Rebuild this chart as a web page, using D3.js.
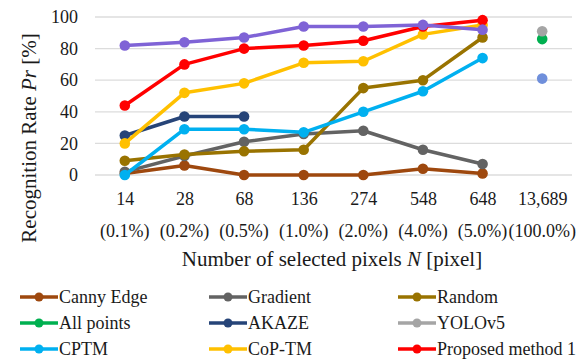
<!DOCTYPE html>
<html>
<head>
<meta charset="utf-8">
<script src="https://cdn.jsdelivr.net/npm/d3@7/dist/d3.min.js"></script>
<style>
  html, body { margin: 0; padding: 0; background: #fff; }
  svg { display: block; }
</style>
</head>
<body>
<svg id="chart" width="582" height="363"></svg>
<script>
// Selected-pixel counts and their share of all pixels
const categories = ["14", "28", "68", "136", "274", "548", "648", "13,689"];
const percents = ["(0.1%)", "(0.2%)", "(0.5%)", "(1.0%)", "(2.0%)", "(4.0%)", "(5.0%)", "(100.0%)"];
const yTicks = [0, 20, 40, 60, 80, 100];

// Recognition rate per method (null = not evaluated)
const cannyEdge   = [1, 6, 0, 0, 0, 4, 1, null];
const gradient    = [2, 12, 21, 26, 28, 16, 7, null];
const random      = [9, 13, 15, 16, 55, 60, 87, null];
const allPoints   = [null, null, null, null, null, null, null, 86];
const akaze       = [25, 37, 37, null, null, null, null, null];
const yolov5      = [null, null, null, null, null, null, null, 91];
const cptm        = [0, 29, 29, 27, 40, 53, 74, null];
const copTm       = [20, 52, 58, 71, 72, 89, 95, null];
const proposed1   = [44, 70, 80, 82, 85, 94, 98, null];
const proposed2   = [82, 84, 87, 94, 94, 95, 92, null];
const proposedAll = [null, null, null, null, null, null, null, 61];

const series = [
  { name: "Canny Edge", values: cannyEdge, color: "#9E480E", legend: true },
  { name: "Gradient", values: gradient, color: "#636363", legend: true },
  { name: "Random", values: random, color: "#997300", legend: true },
  { name: "All points", values: allPoints, color: "#00B050", legend: true },
  { name: "AKAZE", values: akaze, color: "#264478", legend: true },
  { name: "YOLOv5", values: yolov5, color: "#A5A5A5", legend: true },
  { name: "CPTM", values: cptm, color: "#00B0F0", legend: true },
  { name: "CoP-TM", values: copTm, color: "#FFC000", legend: true },
  { name: "Proposed method 1", values: proposed1, color: "#FF0000", legend: true },
  { name: "Proposed method 2", values: proposed2, color: "#7F63D6", legend: false },
  { name: "Proposed method 2 (all)", values: proposedAll, color: "#6F8FDB", legend: false }
];

const FONT = "Liberation Serif";
const INK = "#1a1a1a";

const svg = d3.select("#chart");
const plot = { left: 95, right: 572, top: 17, bottom: 175 };

const x = d3.scalePoint().domain(categories).range([plot.left, plot.right]).padding(0.5);
const y = d3.scaleLinear().domain([0, 100]).range([plot.bottom, plot.top]);

// Horizontal gridlines
svg.append("g")
  .selectAll("line")
  .data(yTicks)
  .join("line")
  .attr("x1", plot.left).attr("x2", plot.right)
  .attr("y1", d => y(d)).attr("y2", d => y(d))
  .attr("stroke", "#DCDCDC").attr("stroke-width", 1.3);

// Y axis labels
const yAxis = svg.append("g")
  .attr("transform", `translate(${plot.left - 17},0)`)
  .call(d3.axisLeft(y).tickValues(yTicks).tickSize(0).tickPadding(0));
yAxis.attr("font-family", null).attr("font-size", null);
yAxis.select(".domain").remove();
yAxis.selectAll("text")
  .style("font-family", FONT).attr("font-size", 18).attr("fill", INK);

// X axis labels: counts, then percentages beneath
const xAxis = svg.append("g")
  .attr("transform", `translate(0,${plot.bottom + 17})`)
  .call(d3.axisBottom(x).tickSize(0).tickPadding(0));
xAxis.attr("font-family", null).attr("font-size", null);
xAxis.select(".domain").remove();
xAxis.selectAll("text")
  .style("font-family", FONT).attr("font-size", 18).attr("fill", INK);

svg.append("g")
  .selectAll("text")
  .data(categories)
  .join("text")
  .attr("x", d => x(d))
  .attr("y", 237)
  .attr("text-anchor", "middle")
  .style("font-family", FONT).attr("font-size", 18).attr("fill", INK)
  .text((d, i) => percents[i]);

// Axis titles
const xTitle = svg.append("text")
  .attr("x", 332).attr("y", 266)
  .attr("text-anchor", "middle")
  .style("font-family", FONT).attr("font-size", 21).attr("fill", INK);
xTitle.append("tspan").text("Number of selected pixels ");
xTitle.append("tspan").style("font-style", "italic").text("N");
xTitle.append("tspan").text(" [pixel]");

const yTitle = svg.append("text")
  .attr("transform", "translate(36,138) rotate(-90)")
  .attr("text-anchor", "middle")
  .style("font-family", FONT).attr("font-size", 21).attr("fill", INK);
yTitle.append("tspan").text("Recognition Rate ");
yTitle.append("tspan").style("font-style", "italic").text("Pr");
yTitle.append("tspan").text(" [%]");

// Lines and markers
const line = d3.line()
  .defined(d => d.v !== null)
  .x(d => x(d.c))
  .y(d => y(d.v));

const marks = svg.append("g");
series.forEach(s => {
  const pts = s.values.map((v, i) => ({ c: categories[i], v }));
  const g = marks.append("g");
  g.append("path")
    .datum(pts)
    .attr("d", line)
    .attr("fill", "none")
    .attr("stroke", s.color)
    .attr("stroke-width", 3.5)
    .attr("stroke-linejoin", "round")
    .attr("stroke-linecap", "round");
  g.selectAll("circle")
    .data(pts.filter(d => d.v !== null))
    .join("circle")
    .attr("cx", d => x(d.c))
    .attr("cy", d => y(d.v))
    .attr("r", 5.3)
    .attr("fill", s.color);
});

// Legend: three columns, three rows
const legendItems = series.filter(s => s.legend);
const colX = [20, 209, 398];
const rowY = [297, 323, 349];
const legend = svg.append("g");
legendItems.forEach((s, i) => {
  const cx = colX[i % 3];
  const cy = rowY[Math.floor(i / 3)];
  const g = legend.append("g").attr("transform", `translate(${cx},${cy})`);
  g.append("line")
    .attr("x1", 0).attr("x2", 38).attr("y1", 0).attr("y2", 0)
    .attr("stroke", s.color).attr("stroke-width", 3.5);
  g.append("circle").attr("cx", 19).attr("cy", 0).attr("r", 4.5).attr("fill", s.color);
  g.append("text")
    .attr("x", 39).attr("y", 6)
    .style("font-family", FONT).attr("font-size", 18).attr("fill", INK)
    .text(s.name);
});
</script>
</body>
</html>
